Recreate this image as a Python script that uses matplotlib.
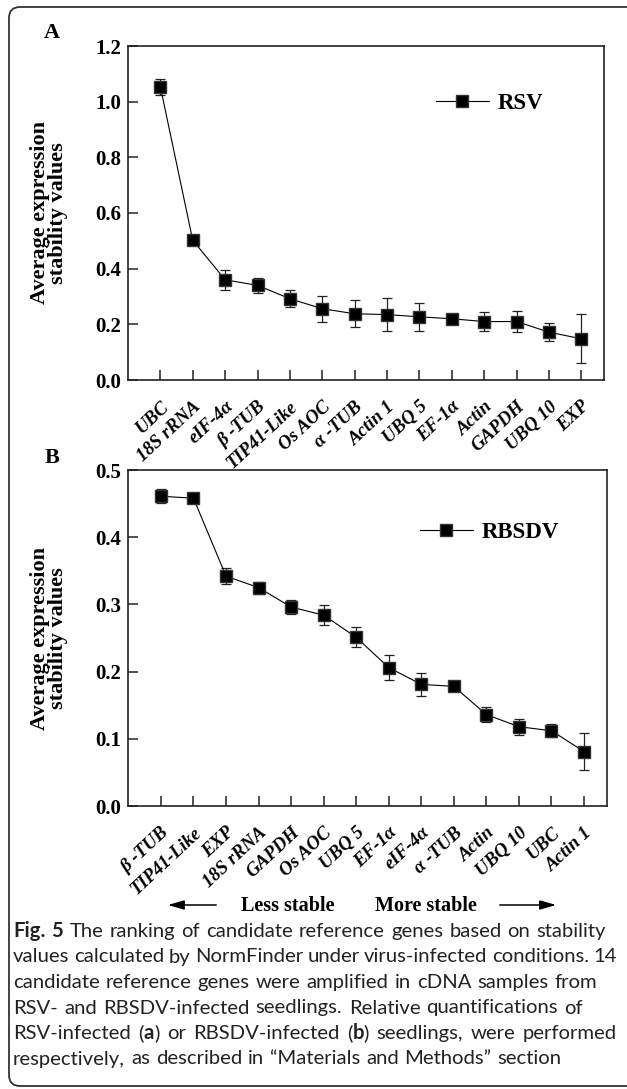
import re
import matplotlib
matplotlib.use("Agg")
import matplotlib.pyplot as plt
from matplotlib.patches import FancyBboxPatch, FancyArrowPatch
from matplotlib.transforms import IdentityTransform

# ---------------- data ----------------
rsv_genes = ["UBC", "18S rRNA", "eIF-4α", "β -TUB", "TIP41-Like", "Os AOC", "α -TUB",
             "Actin 1", "UBQ 5", "EF-1α", "Actin", "GAPDH", "UBQ 10", "EXP"]
rsv_values = [1.053, 0.502, 0.360, 0.340, 0.292, 0.256, 0.238,
              0.235, 0.227, 0.220, 0.210, 0.210, 0.172, 0.148]
rsv_errors = [0.030, 0.018, 0.037, 0.028, 0.030, 0.046, 0.048,
              0.059, 0.050, 0.005, 0.033, 0.039, 0.032, 0.088]

rbsdv_genes = ["β -TUB", "TIP41-Like", "EXP", "18S rRNA", "GAPDH", "Os AOC", "UBQ 5",
               "EF-1α", "eIF-4α", "α -TUB", "Actin", "UBQ 10", "UBC", "Actin 1"]
rbsdv_values = [0.461, 0.458, 0.342, 0.325, 0.296, 0.284, 0.251,
                0.206, 0.181, 0.178, 0.136, 0.118, 0.112, 0.081]
rbsdv_errors = [0.010, 0.003, 0.012, 0.009, 0.010, 0.015, 0.015,
                0.019, 0.017, 0.003, 0.011, 0.012, 0.010, 0.028]

rsv_yticks = [0.0, 0.2, 0.4, 0.6, 0.8, 1.0, 1.2]
rbsdv_yticks = [0.0, 0.1, 0.2, 0.3, 0.4, 0.5]

caption_lines = [
    "**Fig. 5** The ranking of candidate reference genes based on stability",
    "values calculated by NormFinder under virus-infected conditions. 14",
    "candidate reference genes were amplified in cDNA samples from",
    "RSV- and RBSDV-infected seedlings. Relative quantifications of",
    "RSV-infected (**a**) or RBSDV-infected (**b**) seedlings, were performed",
    "respectively, as described in \u201cMaterials and Methods\u201d section",
]

# ---------------- figure ----------------
W, H = 627, 1089
fig = plt.figure(figsize=(W / 100, H / 100), dpi=100)
fig.patch.set_facecolor("white")

SERIF = ["Liberation Serif", "DejaVu Serif"]
SANS = ["Lato", "DejaVu Sans"]


def px_axes(left, top, right, bottom):
    return fig.add_axes([left / W, 1 - bottom / H, (right - left) / W, (bottom - top) / H])


def draw_panel(ax, genes, values, errors, yticks, label):
    x = list(range(1, len(genes) + 1))
    ax.errorbar(x, values, yerr=errors, fmt="none", ecolor="#222222",
                elinewidth=0.9, capsize=3.5, capthick=0.9, zorder=2)
    ax.plot(x, values, color="black", lw=0.8, marker="s", markersize=8,
            markerfacecolor="black", markeredgecolor="#333333", label=label, zorder=3)
    ax.set_xlim(0, 14.7)
    ax.set_ylim(yticks[0], yticks[-1])
    ax.set_yticks(yticks)
    ax.set_yticklabels([f"{v:.1f}" for v in yticks], fontfamily=SERIF,
                       fontweight="bold", fontsize=15)
    ax.set_xticks(x)
    ax.set_xticklabels(genes, rotation=43, ha="right", va="top",
                       rotation_mode="anchor", fontfamily=SERIF,
                       fontweight="bold", fontstyle="italic", fontsize=13.5)
    ax.tick_params(axis="both", direction="in", length=7, width=1.1, color="#222222")
    ax.tick_params(axis="x", pad=13)
    ax.tick_params(axis="y", pad=5)
    for s in ax.spines.values():
        s.set_linewidth(1.2)
        s.set_color("#222222")
    ax.set_ylabel("Average expression\nstability values", fontfamily=SERIF,
                  fontweight="bold", fontsize=16, linespacing=0.85)
    ax.yaxis.set_label_coords(-0.126, 0.5)


ax1 = px_axes(128, 46, 604, 380)
draw_panel(ax1, rsv_genes, rsv_values, rsv_errors, rsv_yticks, "RSV")
ax1.legend(loc="center left", bbox_to_anchor=((436 - 128) / 476, (380 - 103) / 334),
           frameon=False, borderpad=0, borderaxespad=0, handlelength=2.3,
           handletextpad=0.4, prop={"family": SERIF, "weight": "bold", "size": 16.5})

ax2 = px_axes(128.4, 470, 606.8, 806)
draw_panel(ax2, rbsdv_genes, rbsdv_values, rbsdv_errors, rbsdv_yticks, "RBSDV")
ax2.legend(loc="center left", bbox_to_anchor=((420 - 128.4) / 478.4, (806 - 532) / 336),
           frameon=False, borderpad=0, borderaxespad=0, handlelength=2.3,
           handletextpad=0.4, prop={"family": SERIF, "weight": "bold", "size": 16.5})

# Panel letters
fig.text(52 / W, 1 - 33 / H, "A", fontfamily=SERIF, fontweight="bold", fontsize=16,
         ha="center", va="center")
fig.text(52 / W, 1 - 458 / H, "B", fontfamily=SERIF, fontweight="bold", fontsize=16,
         ha="center", va="center")

# Stability arrows
fig.text(288 / W, 1 - 911 / H, "Less stable", fontfamily=SERIF, fontweight="bold",
         fontsize=14.5, ha="center", va="baseline")
fig.text(426 / W, 1 - 911 / H, "More stable", fontfamily=SERIF, fontweight="bold",
         fontsize=14.5, ha="center", va="baseline")
for (xs, xe) in [(219, 165), (497, 559)]:
    arr = FancyArrowPatch((xs, H - 905), (xe, H - 905), transform=IdentityTransform(),
                          arrowstyle="-|>,head_length=0.7,head_width=0.2",
                          mutation_scale=14, lw=1.1, color="black")
    fig.add_artist(arr)

# Rounded border (open on the right)
border = FancyBboxPatch((9, 3), 700, H - 3 - 7, boxstyle="round,pad=0,rounding_size=11",
                        transform=IdentityTransform(), fill=False, lw=1.3,
                        edgecolor="#333333")
fig.add_artist(border)

# Caption (with bold parts, lightly justified)
renderer = fig.canvas.get_renderer()
CAP_SIZE = 14.6
cap_left = 13
cap_baselines = [937, 962.5, 988, 1013.5, 1039, 1064.5]
cap_rights = [606, 617, 597, 583, 617, None]


def parse_words(line):
    words = []
    bold = False
    cur = []
    buf = ""
    for part in re.split(r"(\*\*)", line):
        if part == "**":
            if buf:
                cur.append((buf, bold))
                buf = ""
            bold = not bold
            continue
        for ch in part:
            if ch == " ":
                if buf:
                    cur.append((buf, bold))
                    buf = ""
                if cur:
                    words.append(cur)
                    cur = []
            else:
                buf += ch
    if buf:
        cur.append((buf, bold))
    if cur:
        words.append(cur)
    return words


def width_of(s, bold):
    t = fig.text(0, 0, s, fontfamily=SANS, fontsize=CAP_SIZE,
                 fontweight="bold" if bold else "normal", transform=IdentityTransform())
    w = t.get_window_extent(renderer).width
    t.remove()
    return w


space_w = width_of("n n", False) - width_of("nn", False)

for line, base, right in zip(caption_lines, cap_baselines, cap_rights):
    words = parse_words(line)
    widths = [[width_of(s, b) for s, b in w] for w in words]
    total = sum(sum(ws) for ws in widths)
    if right is not None and len(words) > 1:
        gap = max(space_w * 0.8, (right - cap_left - total) / (len(words) - 1))
    else:
        gap = space_w * 1.15
    x = cap_left
    for w, ws in zip(words, widths):
        for (s, b), sw in zip(w, ws):
            fig.text(x, H - base, s, fontfamily=SANS, fontsize=CAP_SIZE,
                     fontweight="bold" if b else "normal", color="#222222",
                     transform=IdentityTransform(), ha="left", va="baseline")
            x += sw
        x += gap

fig.savefig("out.png", dpi=100, facecolor="white")
